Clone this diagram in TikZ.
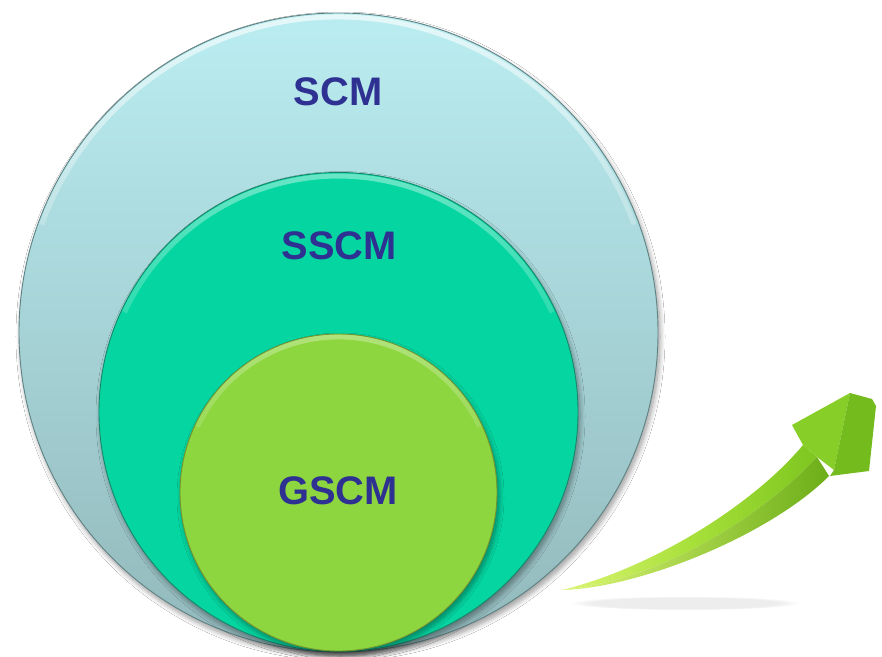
\documentclass[tikz,border=0pt]{standalone}
\usepackage{fontspec}
\setmainfont{Liberation Sans}
\usetikzlibrary{shadows.blur,fadings}

% palette
\definecolor{outertop}{HTML}{BAEDF1}
\definecolor{outerbot}{HTML}{92B8BB}
\definecolor{outeredge}{HTML}{5F8284}
\definecolor{midfill}{HTML}{05D6A1}
\definecolor{midedge}{HTML}{16876A}
\definecolor{innerfill}{HTML}{8DD63F}
\definecolor{inneredge}{HTML}{72922E}
\definecolor{labelblue}{HTML}{2E3192}
\definecolor{arrowlight}{HTML}{DCF575}
\definecolor{arrowmid}{HTML}{A8E03A}
\definecolor{arrowdark}{HTML}{7EC620}
\definecolor{arrowside}{HTML}{6CAE18}
\definecolor{headfront}{HTML}{88CE28}
\definecolor{headside}{HTML}{74BB1D}

% bright rim along the upper edge of each disc
\tikzfading[name=rimglow, top color=transparent!0, bottom color=transparent!100]

\begin{document}
\begin{tikzpicture}[x=1bp,y=-1bp,
  ring/.style={circle, inner sep=0pt, outer sep=0pt, line width=0.9bp,
    blur shadow={shadow xshift=2bp, shadow yshift=-4bp,
      shadow blur radius=5bp, shadow blur steps=10, shadow opacity=40}},
  lbl/.style={font=\fontsize{40}{40}\selectfont\bfseries, text=labelblue, inner sep=0pt},
  rim/.style={white, line width=5bp, opacity=0.7, path fading=rimglow}]

  \fill[white] (0,0) rectangle (882,657);
  \useasboundingbox (0,0) rectangle (882,657);

  % outer disc: SCM
  \node[ring, minimum size=639bp, top color=outertop, bottom color=outerbot,
        draw=outeredge] (scm) at (338.5,332.5) {};
  \begin{scope}
    \clip (scm.center) circle[radius=319];
    \draw[rim] (scm.center) ++(200:315.5) arc[start angle=200, end angle=340, radius=315.5];
  \end{scope}

  % middle disc: SSCM
  \node[ring, minimum size=479bp, fill=midfill, draw=midedge] (sscm) at (338.5,412) {};
  \begin{scope}
    \clip (sscm.center) circle[radius=239];
    \draw[rim, opacity=0.45] (sscm.center) ++(205:236) arc[start angle=205, end angle=335, radius=236];
  \end{scope}

  % inner disc: GSCM
  \node[ring, minimum size=317bp, fill=innerfill, draw=inneredge] (gscm) at (338.5,492.5) {};
  \begin{scope}
    \clip (gscm.center) circle[radius=158];
    \draw[rim, opacity=0.35] (gscm.center) ++(205:155.5) arc[start angle=205, end angle=335, radius=155.5];
  \end{scope}

  % labels
  \node[lbl] (scmlabel) at (338,92) {SCM};
  \node[lbl] (sscmlabel) at (339,246) {SSCM};
  \node[lbl] (gscmlabel) at (338,491) {GSCM};

  % growth arrow: faint shadow under the tail
  \fill[black, opacity=0.07, path fading=circle with fuzzy edge 20 percent]
    (685,603) ellipse [x radius=115, y radius=7];

  % shaft, upper face
  \shade[left color=arrowlight, right color=arrowdark, middle color=arrowmid]
    (562,590) .. controls (652,568) and (753,505) .. (803,445)
    -- (817,457) .. controls (760,518) and (660,580) .. (562,590) -- cycle;
  % shaft, side face
  \shade[left color=arrowlight, right color=arrowside]
    (562,590) .. controls (660,580) and (760,518) .. (817,457)
    -- (829,476) .. controls (770,535) and (640,588) .. (562,590) -- cycle;
  % arrow head, front and side faces
  \fill[headfront] (792,425) -- (850,393) -- (834,470) -- (817,457) -- (803,445) -- cycle;
  \fill[headside] (850,393) -- (872,399) -- (876,406) -- (869,471) -- (830,476) -- (834,470) -- cycle;
\end{tikzpicture}
\end{document}
